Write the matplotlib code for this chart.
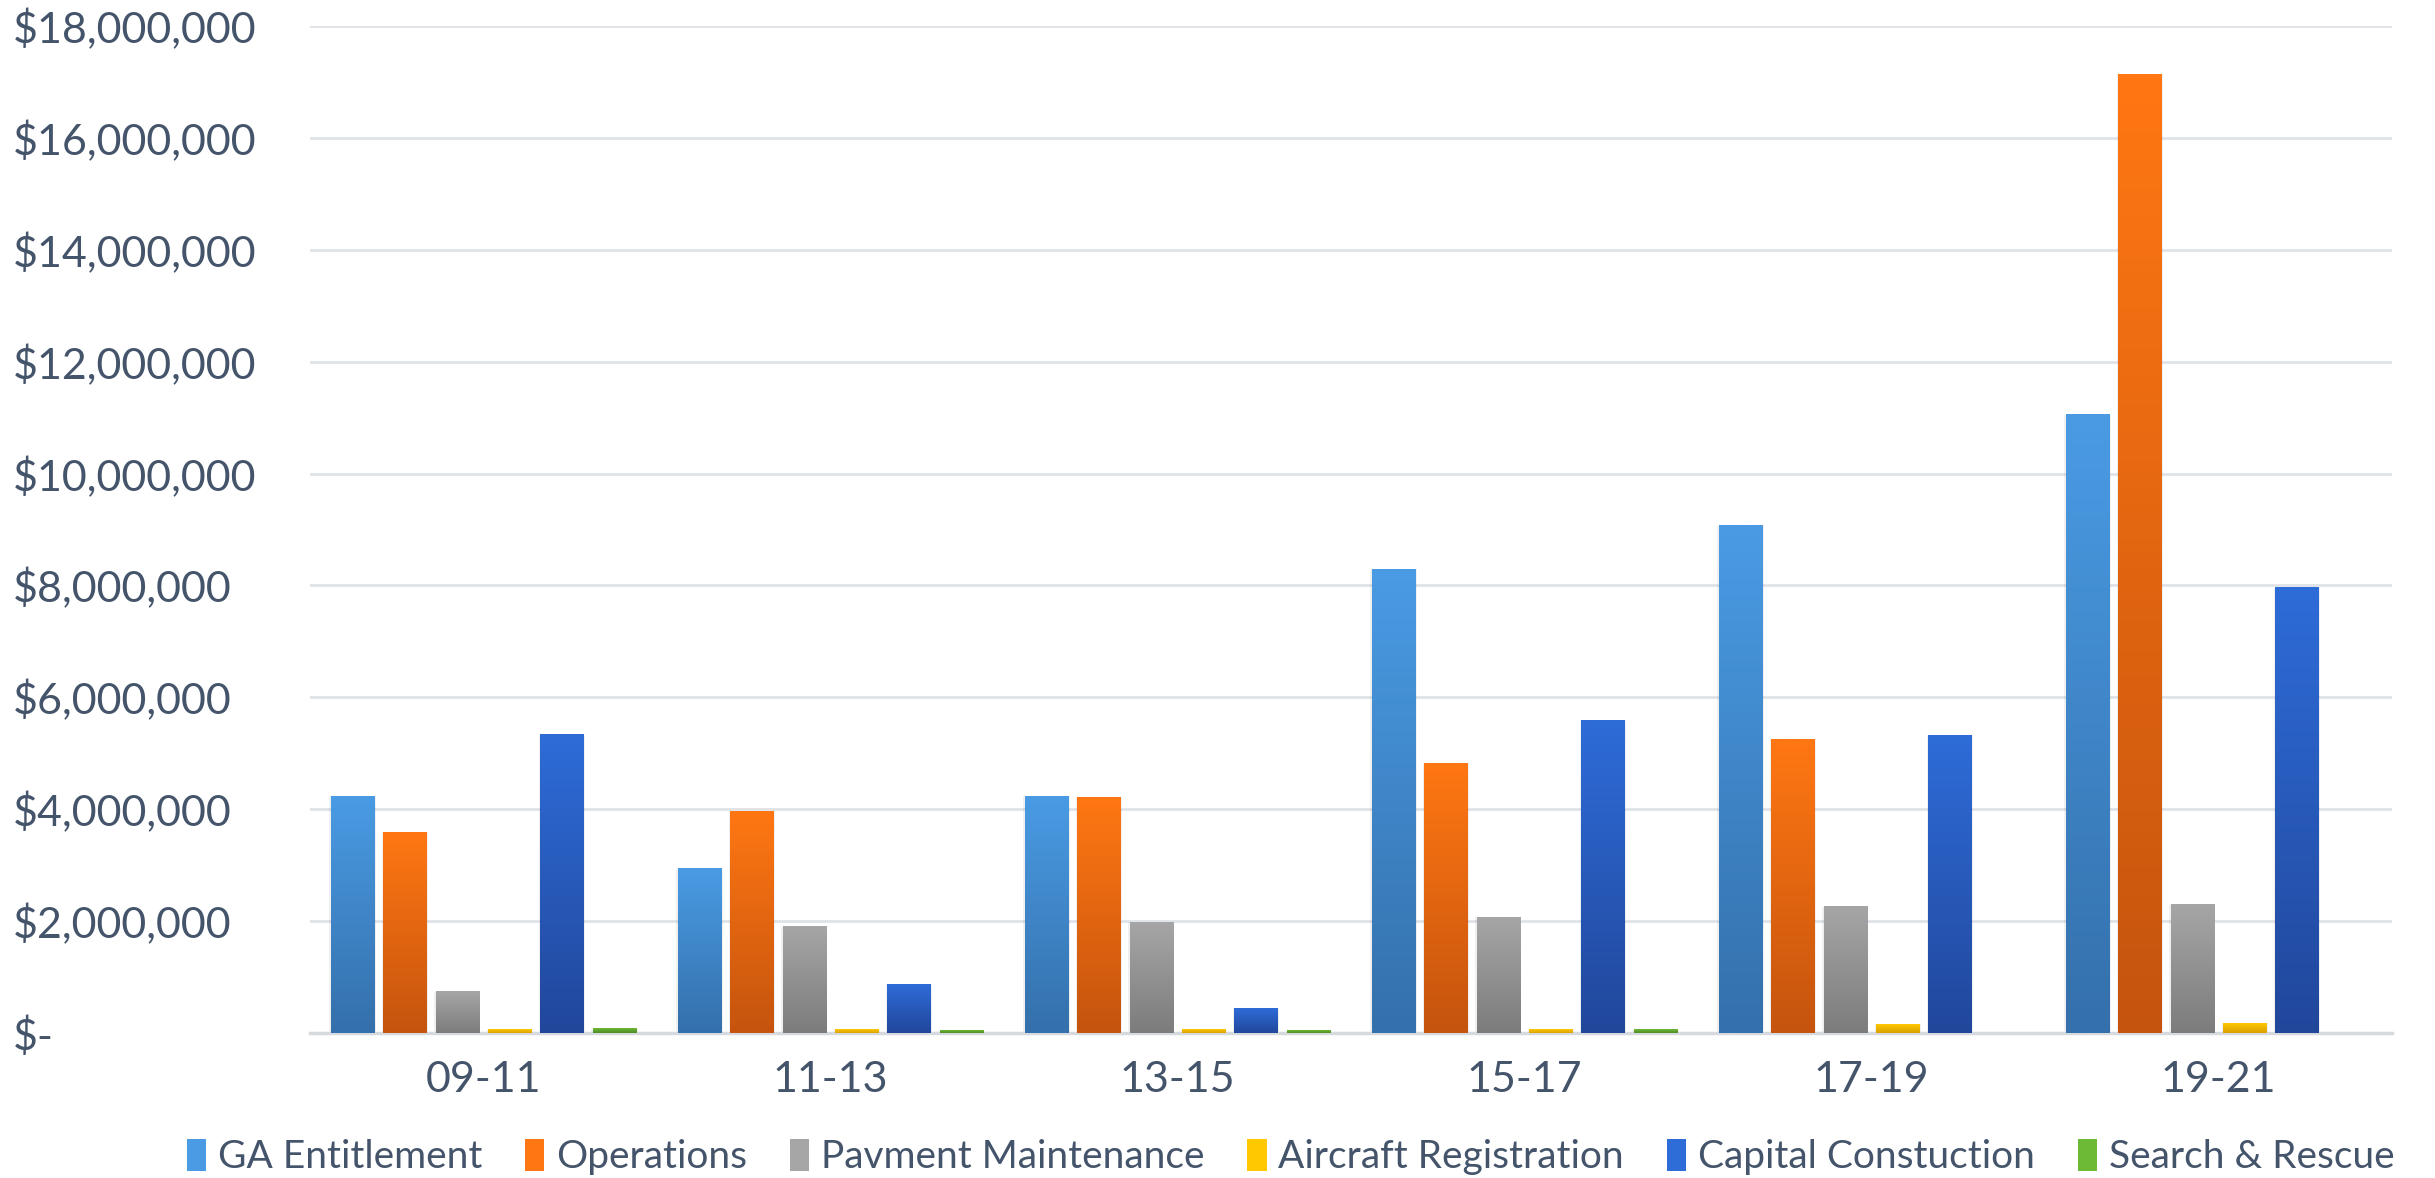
#! /usr/bin/env python3
# -*- coding: utf-8 -*-
"""Biennium funding by program, grouped bars with vertical gradient fills."""
import matplotlib
matplotlib.use("Agg")
import matplotlib.pyplot as plt
import numpy as np
from matplotlib.colors import LinearSegmentedColormap
from matplotlib.patches import Patch
from matplotlib.ticker import FuncFormatter

# Data
periods = ["09-11", "11-13", "13-15", "15-17", "17-19", "19-21"]
series = [
    "GA Entitlement",
    "Operations",
    "Pavment Maintenance",
    "Aircraft Registration",
    "Capital Constuction",
    "Search & Rescue",
]
ga_entitlement = [4230000, 2940000, 4230000, 8290000, 9070000, 11050000]
operations = [3590000, 3960000, 4210000, 4820000, 5250000, 17140000]
pavement = [740000, 1900000, 1980000, 2070000, 2260000, 2290000]
aircraft_reg = [60000, 60000, 60000, 60000, 160000, 170000]
capital = [5330000, 870000, 440000, 5580000, 5320000, 7960000]
search_rescue = [80000, 40000, 40000, 60000, 0, 0]
values = [ga_entitlement, operations, pavement, aircraft_reg, capital, search_rescue]

# (top colour, bottom colour) for each series
grads = [
    ("#4A9BE4", "#3470AB"),
    ("#FF7713", "#C5540E"),
    ("#A6A6A6", "#7C7C7C"),
    ("#FFC800", "#D9A000"),
    ("#2E6CD8", "#21479B"),
    ("#6DBA36", "#4E8B25"),
]
TEXT = "#44546A"

plt.rcParams["font.family"] = ["Lato", "DejaVu Sans"]

fig = plt.figure(figsize=(24.35, 11.78), dpi=100)
ax = fig.add_axes([310 / 2435, 1 - 1033 / 1178, (2392 - 310) / 2435, (1033 - 26) / 1178])

x = np.arange(len(periods))
pitch = 0.151
width = 0.125
grad = np.linspace(0, 1, 256).reshape(-1, 1)

for i, (name, vals) in enumerate(zip(series, values)):
    cmap = LinearSegmentedColormap.from_list(name, [grads[i][1], grads[i][0]])
    offs = (i - 2.5) * pitch
    for xc, v in zip(x, vals):
        if v <= 0:
            continue
        x0 = xc + offs - width / 2
        # soft shadow
        ax.bar(xc + offs, v, width=width + 0.008, color="#000000", alpha=0.06,
               zorder=2, linewidth=0)
        ax.imshow(grad, cmap=cmap, origin="lower", aspect="auto",
                  extent=[x0, x0 + width, 0, v], zorder=3, interpolation="bilinear")

ax.set_xlim(-0.5, len(periods) - 0.5)
ax.set_ylim(0, 18000000)
ax.set_yticks(np.arange(0, 18000001, 2000000))
ax.yaxis.set_major_formatter(FuncFormatter(lambda v, p: "$-" if v == 0 else f"${v:,.0f}"))
ax.set_xticks(x)
ax.set_xticklabels(periods)
ax.grid(axis="y", color="#DFE2E7", linewidth=2, zorder=0)
ax.set_axisbelow(True)
for s in ["top", "right", "left"]:
    ax.spines[s].set_visible(False)
ax.spines["bottom"].set_color("#D6D9DE")
ax.spines["bottom"].set_linewidth(2.5)
ax.tick_params(axis="y", length=0, labelsize=31, colors=TEXT, pad=214)
ax.tick_params(axis="x", length=0, labelsize=31, colors=TEXT, pad=20)
for lab in ax.get_yticklabels():
    lab.set_horizontalalignment("left")

handles = [Patch(facecolor=g[0], edgecolor="none") for g in grads]
fig.legend(handles, series, loc="center", bbox_to_anchor=(0.530, 1 - 1157 / 1178), ncol=6,
           frameon=False, fontsize=28, labelcolor=TEXT, handlelength=0.5,
           handleheight=0.9, handletextpad=0.3, columnspacing=1.1)

fig.savefig("out.png", dpi=100, facecolor="white")
